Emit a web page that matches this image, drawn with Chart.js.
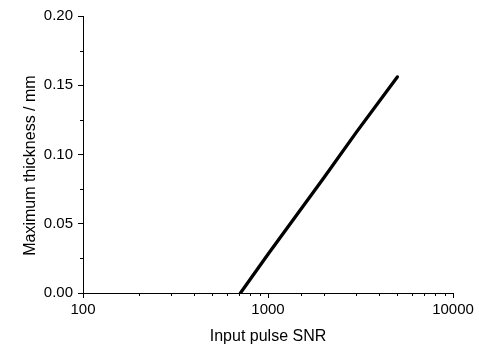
<!DOCTYPE html>
<html><head><meta charset="utf-8">
<script src="https://cdn.jsdelivr.net/npm/chart.js@4/dist/chart.umd.min.js"></script>
<style>html,body{margin:0;padding:0;background:#fff}#wrap{width:479px;height:347px}</style>
</head><body><div id="wrap"><canvas id="c" width="479" height="347"></canvas></div>
<script>
const snr = [710, 1000, 2000, 3000, 5000];
const thickness = [0.0, 0.028, 0.083, 0.116, 0.156];
const xLabels = [100, 1000, 10000];
const yLabels = [0.00, 0.05, 0.10, 0.15, 0.20];

const TICKFONT = {family: '"Liberation Sans", Arial, sans-serif', size: 15};
const TITLEFONT = {family: '"Liberation Sans", Arial, sans-serif', size: 16};

function isMajorX(v){ return xLabels.indexOf(Math.round(v)) >= 0; }
function isMajorY(v){ return yLabels.some(l => Math.abs(l - v) < 1e-9); }

const minorTicks = {
  id: 'minorTicks',
  afterDraw(chart){
    const c = chart.ctx, xs = chart.scales.x, ys = chart.scales.y;
    c.save(); c.strokeStyle = '#000'; c.lineWidth = 1;
    xs.ticks.forEach(t => {
      if (isMajorX(t.value)) return;
      const px = Math.round(xs.getPixelForValue(t.value)) + 0.5;
      c.beginPath(); c.moveTo(px, xs.top); c.lineTo(px, xs.top + 3); c.stroke();
    });
    ys.ticks.forEach(t => {
      if (isMajorY(t.value)) return;
      const py = Math.round(ys.getPixelForValue(t.value)) + 0.5;
      c.beginPath(); c.moveTo(ys.right, py); c.lineTo(ys.right - 3, py); c.stroke();
    });
    c.restore();
  }
};

new Chart(document.getElementById('c'), {
  type: 'line',
  data: { datasets: [{ data: snr.map((x,i)=>({x, y: thickness[i]})), borderColor:'#000', borderWidth:3.3, pointRadius:0, borderCapStyle:'round', tension:0, fill:false }] },
  options: {
    responsive:false, animation:false,
    layout:{ padding:{ left:0, right:26, top:16, bottom:0 } },
    plugins:{ legend:{display:false}, tooltip:{enabled:false} },
    scales:{
      x:{ type:'logarithmic', min:100, max:10000,
        border:{ color:'#000', width:1 },
        grid:{ drawOnChartArea:false, drawTicks:true, tickLength:5, tickWidth:1, tickColor: ctx => isMajorX(ctx.tick.value) ? '#000' : 'rgba(0,0,0,0)' },
        ticks:{ color:'#000', font:TICKFONT, padding:3, maxRotation:0, autoSkip:false,
          callback: v => isMajorX(v) ? String(Math.round(v)) : '' },
        title:{ display:true, text:'Input pulse SNR', color:'#000', font:TITLEFONT, padding:{top:4,bottom:1} },
        afterFit: s => { s.height = 54; }
      },
      y:{ type:'linear', min:0, max:0.2,
        border:{ color:'#000', width:1 },
        grid:{ drawOnChartArea:false, drawTicks:true, tickLength:5, tickWidth:1, tickColor: ctx => isMajorY(ctx.tick.value) ? '#000' : 'rgba(0,0,0,0)' },
        ticks:{ color:'#000', font:TICKFONT, padding:5, stepSize:0.025, autoSkip:false,
          callback: v => isMajorY(v) ? v.toFixed(2) : '' },
        title:{ display:true, text:'Maximum thickness / mm     ', color:'#000', font:TITLEFONT, padding:{top:21,bottom:0} },
        afterFit: s => { s.width = 83; }
      }
    }
  },
  plugins:[minorTicks]
});
</script></body></html>
